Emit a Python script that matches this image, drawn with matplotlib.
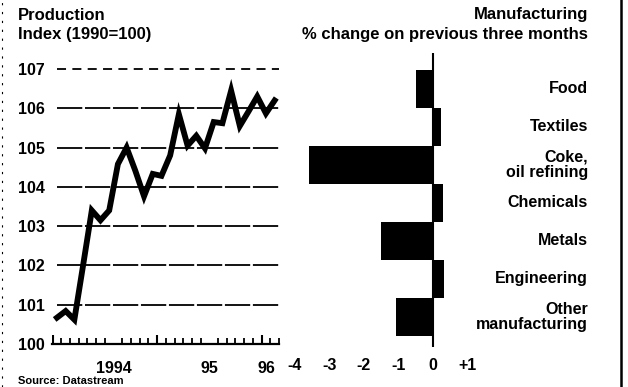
import matplotlib.pyplot as plt
from matplotlib.lines import Line2D

plt.rcParams['font.family'] = ['Liberation Sans', 'DejaVu Sans']
plt.rcParams['font.weight'] = 'bold'

# Production index, monthly Jan 1994 - Feb 1996 (1990=100)
months = list(range(26))
production = [100.67, 100.84, 100.62, 102.0, 103.4, 103.15, 103.4, 104.58, 105.0, 104.41,
              103.76, 104.33, 104.28, 104.8, 105.85, 105.05, 105.3, 104.98, 105.65, 105.62,
              106.45, 105.55, 105.92, 106.3, 105.87, 106.2]
year_labels = ['1994', '95', '96']
year_label_pos = [6.5, 17.5, 24]
year_bounds = [-0.5, 11.5, 23.5]
index_ticks = [100, 101, 102, 103, 104, 105, 106, 107]

# Manufacturing, % change on previous three months
sectors = ['Food', 'Textiles', 'Coke,\noil refining', 'Chemicals', 'Metals',
           'Engineering', 'Other\nmanufacturing']
change = [-0.48, 0.24, -3.58, 0.29, -1.51, 0.32, -1.08]
change_ticks = [-4, -3, -2, -1, 0, 1]
change_labels = ['-4', '-3', '-2', '-1', '0', '+1']

fig = plt.figure(figsize=(6.28, 3.87), dpi=100)
W, H = 628, 387

# ---- left panel: production index line
ax = fig.add_axes([52 / W, 1 - 344 / H, 227 / W, 275 / H])
ax.set_xlim(-0.57, 25.1)
ax.set_ylim(100, 107)
for v in index_ticks[1:]:
    style = (0, (5, 3.5)) if v == 107 else (0, (14, 1.5))
    ax.axhline(v, color='black', lw=1.3, ls=style, xmin=0.02, clip_on=False, zorder=1)
ax.plot(months, production, color='black', lw=4.2, solid_joinstyle='miter', zorder=3)

for s in ['top', 'right', 'left']:
    ax.spines[s].set_visible(False)
ax.spines['bottom'].set_linewidth(1.6)
ax.set_yticks(index_ticks)
ax.set_yticklabels([str(v) for v in index_ticks], fontsize=11.5)
ax.tick_params(axis='y', length=0, pad=5)
ax.set_xticks(year_label_pos)
ax.set_xticklabels(year_labels, fontsize=11.5)
ax.tick_params(axis='x', which='major', length=0, pad=12)
ax.set_xticks([m - 0.5 for m in months] + [25.5], minor=True)
ax.tick_params(axis='x', which='minor', direction='in', length=4, width=1.3)
ax.vlines(year_bounds, 100, 100.22, color='black', lw=1.5)

fig.text(18 / W, 1 - 15 / H, 'Production', fontsize=12, va='center')
fig.text(18 / W, 1 - 35 / H, 'Index (1990=100)', fontsize=12, va='center')

# ---- right panel: manufacturing bars
ax2 = fig.add_axes([287.7 / W, 1 - 347 / H, 190.3 / W, 294 / H])
ax2.barh(range(len(sectors)), change, height=1.0, color='black')
ax2.set_xlim(-4.2, 1.3)
ax2.set_ylim(6.79, -0.947)
ax2.axvline(0, color='black', lw=1.5)
for s in ax2.spines.values():
    s.set_visible(False)
ax2.set_yticks([])
ax2.set_xticks(change_ticks)
ax2.set_xticklabels(change_labels, fontsize=11.5)
ax2.tick_params(axis='x', length=0, pad=8)
for i, name in enumerate(sectors):
    ax2.text(4.48, i, name, ha='right', va='center', fontsize=11.5,
             linespacing=1.0, clip_on=False)

fig.text(588 / W, 1 - 15 / H, 'Manufacturing', fontsize=12, ha='right', va='center')
fig.text(588 / W, 1 - 35 / H, '% change on previous three months', fontsize=12,
         ha='right', va='center')

fig.text(18 / W, 1 - 386 / H, 'Source: Datastream', fontsize=8, va='bottom')

# frame edges
fig.add_artist(Line2D([621 / W, 621 / W], [0, 1], color='black', lw=1.8))
fig.add_artist(Line2D([2 / W, 2 / W], [0, 1], color='black', lw=0.8, ls=(0, (2, 6))))

fig.savefig('out.png', dpi=100, facecolor='white')
